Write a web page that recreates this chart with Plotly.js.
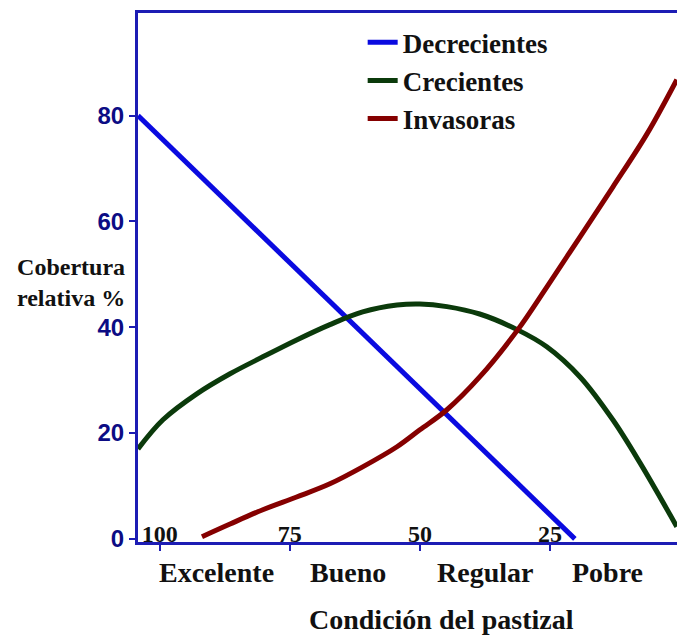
<!DOCTYPE html>
<html>
<head>
<meta charset="utf-8">
<script src="https://cdn.plot.ly/plotly-3.0.1.min.js"></script>
<style>
html,body{margin:0;padding:0;overflow:hidden;background:#fff;}
#chart{width:682px;height:635px;}
</style>
</head>
<body>
<div id="chart"></div>
<script>
// ---- data (condición del pastizal, cobertura relativa %) ----
const decX = [104.2, 20.2];
const decY = [80, 0];

const creX = [104.2, 99.4, 92.9, 86.5, 80.2, 73.7, 67.3, 61.0, 54.4, 50.0, 44.8, 38.5, 31.2, 25.6, 19.2, 12.9, 7.7, 0.6];
const creY = [17.0, 22.5, 27.4, 31.2, 34.4, 37.6, 40.5, 42.9, 44.2, 44.4, 43.9, 42.5, 39.5, 36.3, 30.6, 22.5, 14.4, 2.3];

const invX = [91.9, 86.5, 80.2, 73.7, 67.3, 61.0, 54.4, 50.0, 44.8, 38.5, 31.2, 25.6, 19.2, 12.9, 6.3, 0.6];
const invY = [0.4, 2.8, 5.5, 7.9, 10.4, 13.6, 17.4, 20.6, 24.4, 30.6, 39.5, 47.6, 57.1, 66.5, 76.6, 86.8];

const seriesNames = ["Decrecientes", "Crecientes", "Invasoras"];
const xTicks = [100, 75, 50, 25];
const yTicks = [0, 20, 40, 60, 80];
const zoneBounds = [100, 75, 50, 25, 0];
const zoneNames = ["Excelente", "Bueno", "Regular", "Pobre"];
const xTitle = "Condición del pastizal";
const yTitle = "Cobertura<br>relativa %";

// ---- styles ----
const serif = "Liberation Serif, Times New Roman, serif";
const axisBlue = "#1c1cb4";
const zoneShift = [-8, -7, 0, -7];
const xRange = [104.2, -0.4];

const traces = [
  {x: decX, y: decY, name: seriesNames[0], mode: "lines",
   line: {color: "#0a0ae0", width: 5}},
  {x: creX, y: creY, name: seriesNames[1], mode: "lines",
   line: {color: "#0b3a0b", width: 5, shape: "spline", smoothing: 1}},
  {x: invX, y: invY, name: seriesNames[2], mode: "lines",
   line: {color: "#850000", width: 5, shape: "spline", smoothing: 1}},
  // empty helper trace so the tick-label axis (x2) is drawn
  {x: [], y: [], xaxis: "x2", yaxis: "y", mode: "lines", showlegend: false, hoverinfo: "skip"}
];

const annotations = zoneNames.map((t, i) => ({
  text: t, xref: "x", yref: "paper",
  x: (zoneBounds[i] + zoneBounds[i + 1]) / 2, y: -0.057,
  xanchor: "center", xshift: zoneShift[i], showarrow: false, yanchor: "middle",
  font: {family: serif, size: 28, color: "#111", weight: "bold"}
}));
annotations.push({
  text: xTitle, xref: "paper", yref: "paper", x: 0.557, y: -0.146,
  xanchor: "center", showarrow: false, yanchor: "middle",
  font: {family: serif, size: 28, color: "#111", weight: "bold"}
});
annotations.push({
  text: yTitle, xref: "paper", yref: "paper", x: -0.124, y: 0.49,
  xanchor: "center", showarrow: false, align: "center", yanchor: "middle",
  font: {family: serif, size: 24, color: "#111", weight: "bold"}
});

const layout = {
  width: 682, height: 635,
  margin: {l: 138, r: 0, t: 13, b: 93},
  paper_bgcolor: "#fff", plot_bgcolor: "#fff",
  showlegend: true,
  legend: {x: 0.413, y: 0.99, xanchor: "left", yanchor: "top",
           bgcolor: "rgba(0,0,0,0)", tracegroupgap: 0,
           font: {family: serif, size: 27, color: "#111", weight: "bold"}},
  xaxis: {
    range: xRange, autorange: false,
    tickvals: xTicks, showticklabels: false,
    ticks: "outside", ticklen: 6, tickwidth: 2, tickcolor: axisBlue,
    showline: true, linecolor: axisBlue, linewidth: 3, mirror: true,
    showgrid: false, zeroline: false
  },
  xaxis2: {
    overlaying: "x", anchor: "free", position: 0.047, side: "bottom",
    range: xRange, autorange: false,
    tickvals: xTicks, ticktext: xTicks.map(String), ticks: "",
    tickfont: {family: serif, size: 24, color: "#111", weight: "bold"},
    showline: false, showgrid: false, zeroline: false
  },
  yaxis: {
    range: [-0.6, 99.4], autorange: false,
    tickvals: yTicks, ticktext: yTicks.map(String),
    ticks: "outside", ticklen: 6, tickwidth: 2, tickcolor: axisBlue,
    tickfont: {family: "Liberation Sans, Arial, sans-serif", size: 24, color: "#0c0c84", weight: "bold"},
    showline: true, linecolor: axisBlue, linewidth: 3, mirror: true,
    showgrid: false, zeroline: false
  },
  annotations: annotations
};

Plotly.newPlot("chart", traces, layout, {displayModeBar: false, staticPlot: true});
</script>
</body>
</html>
